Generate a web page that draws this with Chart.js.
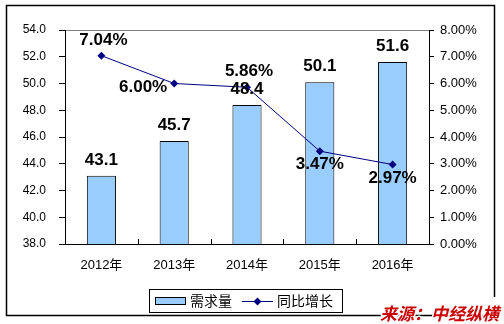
<!DOCTYPE html>
<html>
<head>
<meta charset="utf-8">
<script src="https://cdn.jsdelivr.net/npm/chart.js@4.4.1/dist/chart.umd.min.js"></script>
<style>
  html, body { margin: 0; padding: 0; background: #fff; }
  #wrap { width: 504px; height: 324px; position: relative; }
</style>
</head>
<body>
<div id="wrap"><canvas id="c" width="504" height="324"></canvas></div>
<script>
// Demand (left axis) and year-on-year growth in % (right axis)
const years = ['2012年', '2013年', '2014年', '2015年', '2016年'];
const demand = [43.1, 45.7, 48.4, 50.1, 51.6];
const growth = [7.04, 6.00, 5.86, 3.47, 2.97];
const demandTicks = [38, 40, 42, 44, 46, 48, 50, 52, 54];
const growthTicks = [0, 1, 2, 3, 4, 5, 6, 7, 8];
const seriesNames = ['需求量', '同比增长'];
const sourceNote = '来源：中经纵横';

// where each growth label sits relative to its point
const growthLabelSide = ['above', 'left', 'above', 'below', 'below'];

const BAR_FILL = '#99ccff';
const LINE_COLOR = '#000080';
const TICK_FONT = { family: 'Liberation Sans, Arial, sans-serif', size: 12 };
const LABEL_FONT = 'bold 17px "Liberation Sans", Arial, sans-serif';
const CJK_FONT = '"Noto Sans CJK SC", sans-serif';

function diamond(ctx, x, y, r) {
  ctx.beginPath();
  ctx.moveTo(x, y - r);
  ctx.lineTo(x + r, y);
  ctx.lineTo(x, y + r);
  ctx.lineTo(x - r, y);
  ctx.closePath();
  ctx.fill();
}

const framePlugin = {
  id: 'frame',
  beforeDraw(chart) {
    const { ctx, chartArea: a } = chart;
    ctx.save();
    ctx.fillStyle = '#fff';
    ctx.fillRect(0, 0, chart.width, chart.height);
    ctx.strokeStyle = '#808080';
    ctx.lineWidth = 1;
    ctx.strokeRect(Math.round(a.left) + 0.5, Math.round(a.top) + 0.5,
                   Math.round(a.right - a.left), Math.round(a.bottom - a.top));
    ctx.restore();
  },
  afterDatasetsDraw(chart) {
    const { ctx, chartArea: a } = chart;
    // short category tick marks pointing up from the x axis
    const xs = chart.scales.x;
    ctx.save();
    ctx.strokeStyle = '#000';
    ctx.lineWidth = 1;
    for (let i = 1; i < years.length; i++) {
      const bx = Math.round((xs.getPixelForValue(i - 1) + xs.getPixelForValue(i)) / 2) + 0.5;
      ctx.beginPath();
      ctx.moveTo(bx, a.bottom);
      ctx.lineTo(bx, a.bottom - 5);
      ctx.stroke();
    }
    // value labels on bars
    ctx.fillStyle = '#000';
    ctx.font = LABEL_FONT;
    const barMeta = chart.getDatasetMeta(1);
    barMeta.data.forEach((el, i) => {
      ctx.textAlign = 'center';
      ctx.textBaseline = 'alphabetic';
      ctx.fillText(demand[i].toFixed(1), el.x, el.y - 11);
    });
    // growth labels
    const lineMeta = chart.getDatasetMeta(0);
    lineMeta.data.forEach((el, i) => {
      const txt = growth[i].toFixed(2) + '%';
      const side = growthLabelSide[i];
      if (side === 'above') {
        ctx.textAlign = 'center';
        ctx.textBaseline = 'alphabetic';
        ctx.fillText(txt, el.x + 2, el.y - 11);
      } else if (side === 'left') {
        ctx.textAlign = 'right';
        ctx.textBaseline = 'middle';
        ctx.fillText(txt, el.x - 7, el.y + 4);
      } else {
        ctx.textAlign = 'center';
        ctx.textBaseline = 'top';
        ctx.fillText(txt, el.x, el.y + 5);
      }
    });
    ctx.restore();
  },
  afterDraw(chart) {
    const { ctx } = chart;
    ctx.save();
    // outer frame
    ctx.strokeStyle = '#000';
    ctx.lineWidth = 1.5;
    ctx.beginPath();
    ctx.moveTo(494.5, 297);
    ctx.lineTo(494.5, 5.5);
    ctx.lineTo(6.5, 5.5);
    ctx.lineTo(6.5, 315.5);
    ctx.lineTo(497, 315.5);
    ctx.stroke();

    // legend box
    ctx.lineWidth = 1;
    ctx.fillStyle = '#fff';
    ctx.fillRect(149.5, 289.5, 193, 23);
    ctx.strokeRect(149.5, 289.5, 193, 23);
    ctx.fillStyle = BAR_FILL;
    ctx.fillRect(155.5, 297.5, 30, 7);
    ctx.strokeRect(155.5, 297.5, 30, 7);
    ctx.strokeStyle = LINE_COLOR;
    ctx.beginPath();
    ctx.moveTo(242, 301.5);
    ctx.lineTo(273, 301.5);
    ctx.stroke();
    ctx.fillStyle = LINE_COLOR;
    diamond(ctx, 257.5, 301.5, 4);
    ctx.fillStyle = '#000';
    ctx.font = '14px ' + CJK_FONT;
    ctx.textAlign = 'left';
    ctx.textBaseline = 'middle';
    ctx.fillText(seriesNames[0], 190, 301);
    ctx.fillText(seriesNames[1], 277, 301);

    // source note
    ctx.font = 'italic bold 17px ' + CJK_FONT;
    ctx.textAlign = 'right';
    ctx.textBaseline = 'alphabetic';
    ctx.strokeStyle = '#fff';
    ctx.lineWidth = 3;
    ctx.lineJoin = 'round';
    ctx.strokeText(sourceNote, 499, 320);
    ctx.fillStyle = '#cc0000';
    ctx.fillText(sourceNote, 499, 320);
    ctx.restore();
  }
};

new Chart(document.getElementById('c'), {
  data: {
    labels: years,
    datasets: [
      {
        type: 'line',
        label: seriesNames[1],
        data: growth,
        yAxisID: 'y1',
        borderColor: LINE_COLOR,
        borderWidth: 1,
        backgroundColor: LINE_COLOR,
        pointStyle: 'rectRot',
        pointRadius: 4,
        pointBackgroundColor: LINE_COLOR,
        pointBorderColor: LINE_COLOR,
        pointBorderWidth: 0,
        tension: 0,
        fill: false
      },
      {
        type: 'bar',
        label: seriesNames[0],
        data: demand,
        yAxisID: 'y',
        backgroundColor: BAR_FILL,
        borderColor: '#000',
        borderWidth: 1,
        borderSkipped: false,
        categoryPercentage: 1,
        barPercentage: 0.4
      }
    ]
  },
  options: {
    responsive: false,
    animation: false,
    devicePixelRatio: 1,
    layout: { padding: { top: 30, left: 0, right: 0, bottom: 0 } },
    plugins: { legend: { display: false }, tooltip: { enabled: false } },
    scales: {
      x: {
        offset: true,
        grid: { display: false, drawTicks: false },
        border: { display: true, color: '#000', width: 1 },
        ticks: { color: '#000', font: { family: 'Liberation Sans, "Noto Sans CJK SC", sans-serif', size: 13 }, padding: 14, maxRotation: 0 },
        afterFit(s) { s.height = 80; }
      },
      y: {
        position: 'left',
        min: 38, max: 54,
        afterBuildTicks(s) { s.ticks = demandTicks.map(v => ({ value: v })); },
        grid: { drawOnChartArea: false, drawTicks: true, tickLength: 6, color: '#000' },
        border: { display: true, color: '#000', width: 1 },
        ticks: { color: '#000', font: TICK_FONT, padding: 13, callback: v => Number(v).toFixed(1) },
        afterFit(s) { s.width = 65; }
      },
      y1: {
        position: 'right',
        min: 0, max: 8,
        afterBuildTicks(s) { s.ticks = growthTicks.map(v => ({ value: v })); },
        grid: { drawOnChartArea: false, drawTicks: true, tickLength: 5, color: '#000' },
        border: { display: true, color: '#000', width: 1 },
        ticks: { color: '#000', font: { family: TICK_FONT.family, size: 13 }, padding: 6, callback: v => Number(v).toFixed(2) + '%' },
        afterFit(s) { s.width = 75; }
      }
    }
  },
  plugins: [framePlugin]
});
</script>
</body>
</html>
